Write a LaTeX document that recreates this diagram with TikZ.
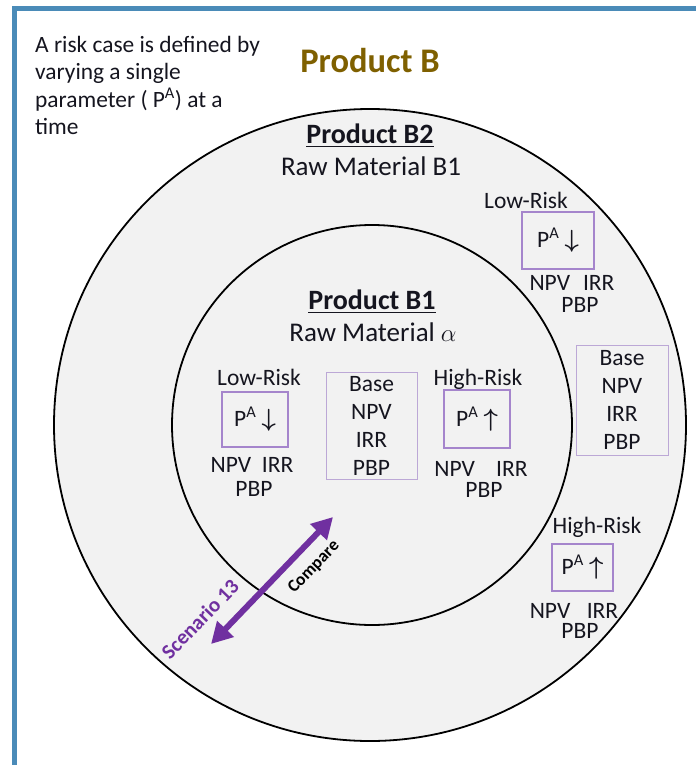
\documentclass[tikz,border=0pt]{standalone}
\usepackage{amsmath}
\usepackage{fontspec}
\setmainfont{Carlito}
\usepackage{tikz}
\usetikzlibrary{arrows.meta,positioning}
\definecolor{frameBlue}{HTML}{4A8BB8}
\definecolor{ringGray}{HTML}{F2F2F2}
\definecolor{boxLilac}{HTML}{A585CC}
\definecolor{baseLilac}{HTML}{BCA8D6}
\definecolor{scenPurple}{HTML}{7030A0}
\definecolor{titleOlive}{HTML}{7F6000}
\definecolor{inkDark}{HTML}{15151F}
\newcommand{\pdown}{P\textsuperscript{A} $\boldsymbol{\downarrow}$}
\newcommand{\pup}{P\textsuperscript{A} $\boldsymbol{\uparrow}$}

\begin{document}
\begin{tikzpicture}[
  x=1pt,y=-1pt,
  font=\fontsize{23.5}{27}\selectfont,text=inkDark,
  ring/.style={draw=black,line width=1.8pt,fill=ringGray},
  rbox/.style={draw=boxLilac,line width=1.6pt,inner sep=0pt},
  bbox/.style={draw=baseLilac,line width=1pt,align=center,inner sep=0pt,
               font=\fontsize{23.5}{28}\selectfont},
  lbl/.style={anchor=base,inner sep=0pt},
  arr/.style={{Triangle[width=22pt,length=21pt]}-{Triangle[width=22pt,length=21pt]},
              line width=6pt,draw=scenPurple}
]
\useasboundingbox (0,0) rectangle (696,765);
\draw[frameBlue,line width=5pt] (14.5,765) -- (14.5,8.5) -- (696,8.5);

% rings
\node[ring,circle,minimum size=632pt,inner sep=0pt] (outer) at (370,425) {};
\node[ring,circle,minimum size=400pt,inner sep=0pt] (inner) at (372,425) {};

% headings
\node[anchor=north west,align=left,inner sep=0pt,font=\fontsize{23.4}{27.3}\selectfont]
  (note) at (35,36) {A risk case is defined by\\varying a single\\parameter ( P\textsuperscript{A}) at a\\time};
\node[lbl,font=\fontsize{34.5}{38}\selectfont\bfseries,text=titleOlive] (prodB) at (370,73) {Product B};
\node[lbl,font=\fontsize{28}{30}\selectfont\bfseries] (prodB2) at (370,143) {\underline{Product B2}};
\node[lbl,font=\fontsize{27}{30}\selectfont] (rawB1) at (371,175) {Raw Material B1};
\node[lbl,font=\fontsize{28}{30}\selectfont\bfseries] (prodB1) at (372,309) {\underline{Product B1}};
\node[lbl,font=\fontsize{27}{30}\selectfont] (rawA) at (373,341) {Raw Material $\alpha$};

% product B1 cases
\node[lbl] (lowIn) at (259,385) {Low-Risk};
\node[rbox,minimum width=66pt,minimum height=55pt] (lowInBox) at (255,419.5) {\pdown};
\node[lbl] (lowInK) at (252,472) {NPV\hspace{0.45em}IRR};
\node[lbl] (lowInP) at (254,496) {PBP};
\node[bbox,minimum width=91pt,minimum height=107pt] (baseIn) at (371.5,425.5) {Base\\NPV\\IRR\\PBP};
\node[lbl] (highIn) at (478,385) {High-Risk};
\node[rbox,minimum width=66pt,minimum height=58pt] (highInBox) at (477,419) {\pup};
\node[lbl] (highInK) at (481,476) {NPV\hspace{0.9em}IRR};
\node[lbl] (highInP) at (484,497) {PBP};

% product B2 cases
\node[lbl] (lowOut) at (526,208) {Low-Risk};
\node[rbox,minimum width=72pt,minimum height=57pt] (lowOutBox) at (558,240.5) {\pdown};
\node[lbl] (lowOutK) at (572,290) {NPV\hspace{0.55em}IRR};
\node[lbl] (lowOutP) at (580,312) {PBP};
\node[bbox,minimum width=92pt,minimum height=110pt] (baseOut) at (622,400) {Base\\NPV\\IRR\\PBP};
\node[lbl] (highOut) at (597,533) {High-Risk};
\node[rbox,minimum width=61pt,minimum height=47pt] (highOutBox) at (582.5,567.5) {\pup};
\node[lbl] (highOutK) at (574,618) {NPV\hspace{0.7em}IRR};
\node[lbl] (highOutP) at (580,638) {PBP};

% scenario arrow
\coordinate (scLow) at (211,644);
\coordinate (scHigh) at (333,517);
\draw[arr] (scLow) -- (scHigh);
\node[rotate=46,font=\fontsize{17.5}{18}\selectfont\bfseries,text=black] (cmp) at (314,567) {Compare};
\node[rotate=46,font=\fontsize{21}{22}\selectfont\bfseries,text=scenPurple] (scen) at (200,619) {Scenario 13};
\end{tikzpicture}
\end{document}
